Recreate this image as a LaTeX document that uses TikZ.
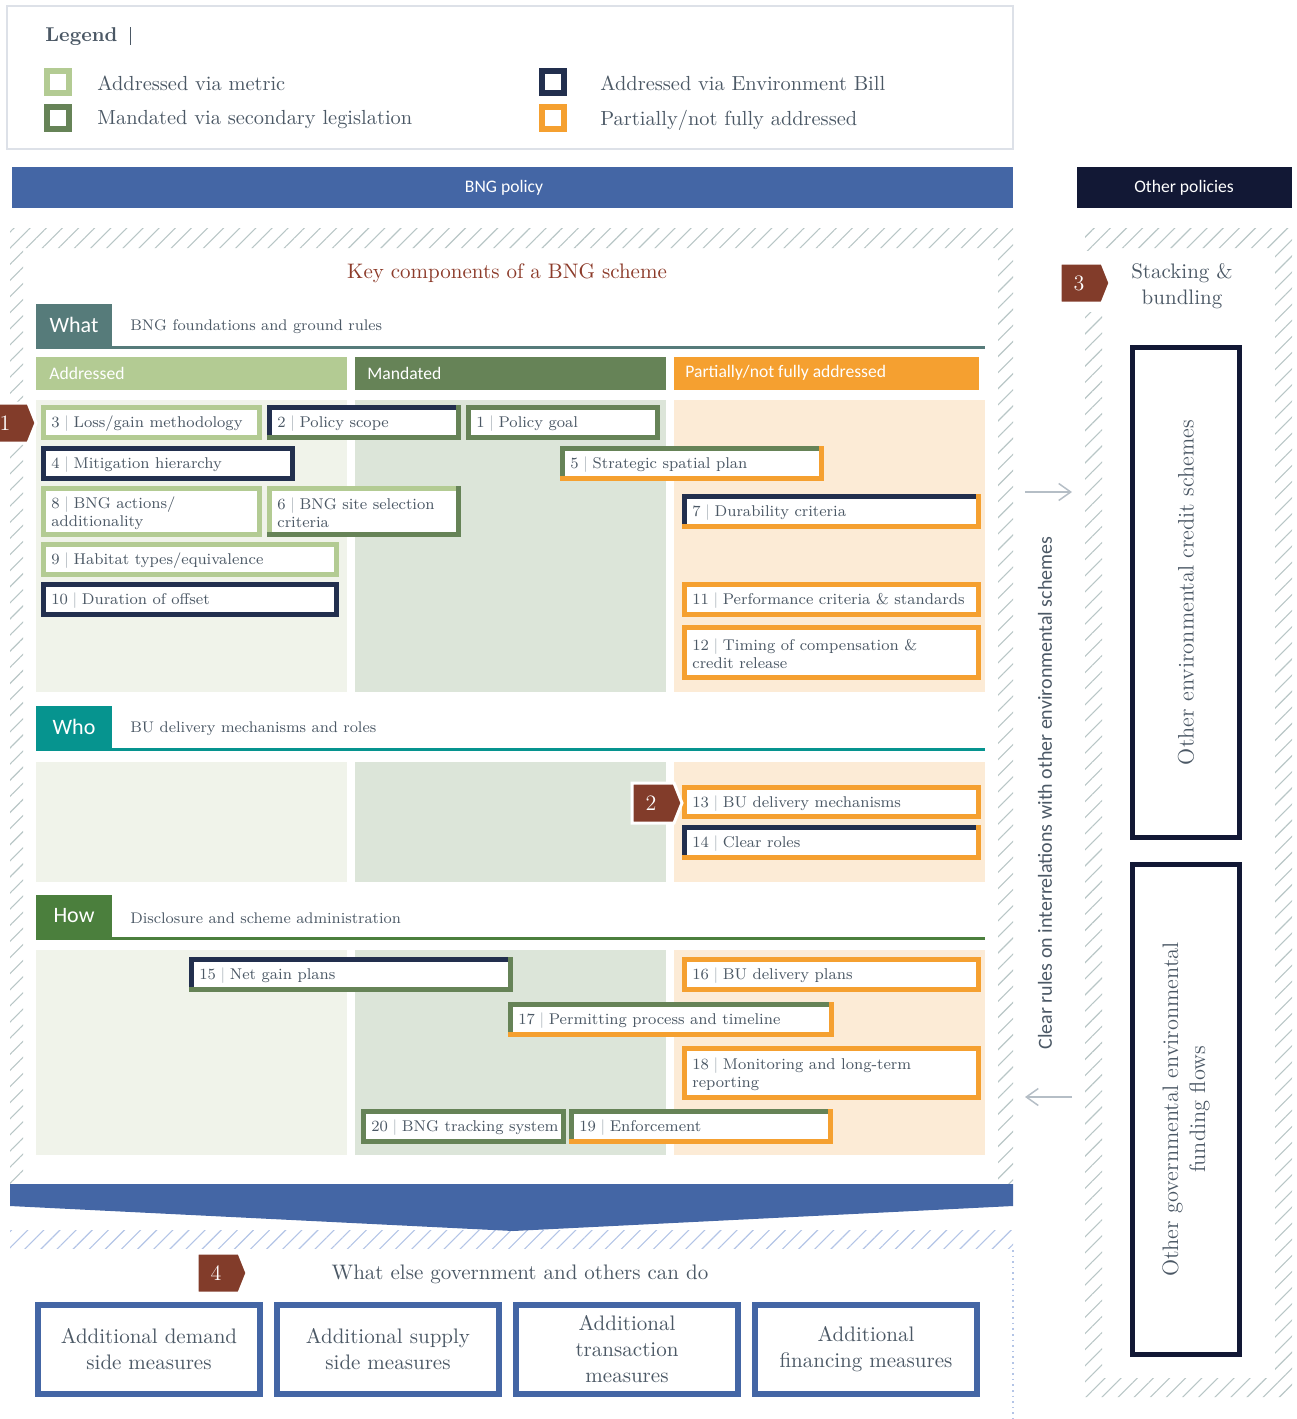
\documentclass[tikz,border=0pt]{standalone}
\usepackage{fontspec}
\setsansfont{Carlito}
\usepackage{tikz}
\usetikzlibrary{patterns.meta,arrows.meta}

\definecolor{txtc}{HTML}{4B5865}
\definecolor{titlec}{HTML}{8C3B2A}
\definecolor{markc}{HTML}{823C2A}
\definecolor{bngblue}{HTML}{4466A5}
\definecolor{navyd}{HTML}{121835}
\definecolor{navy}{HTML}{222F4E}
\definecolor{lgr}{HTML}{B3CB93}
\definecolor{mgr}{HTML}{668357}
\definecolor{orng}{HTML}{F5A030}
\definecolor{addbg}{HTML}{F0F3EA}
\definecolor{manbg}{HTML}{DCE5D9}
\definecolor{parbg}{HTML}{FCEBD6}
\definecolor{whatc}{HTML}{567B7A}
\definecolor{whoc}{HTML}{06948F}
\definecolor{howc}{HTML}{4B7F3D}
\definecolor{hatchc}{HTML}{B8C6C6}
\definecolor{hatchb}{HTML}{B3C4E6}
\definecolor{legc}{HTML}{DDE1E8}
\definecolor{arrc}{HTML}{B5BEC6}
\definecolor{sepc}{HTML}{A9B1B9}

\tikzset{
  hatch/.style={pattern={Lines[angle=45,distance=5.7pt,line width=0.55pt]},pattern color=#1},
  itemtext/.style={anchor=west,align=left,inner sep=0pt,text=txtc,font=\fontsize{7.8}{9}\selectfont},
  tabtext/.style={text=white,font=\sffamily\fontsize{11}{13}\selectfont},
  subtext/.style={anchor=west,inner sep=0pt,text=txtc,font=\fontsize{7.7}{9}\selectfont},
  colhead/.style={anchor=west,inner sep=0pt,text=white,font=\sffamily\fontsize{8.8}{10}\selectfont},
  legtext/.style={anchor=west,inner sep=0pt,text=txtc,font=\fontsize{10.2}{12}\selectfont},
  marktext/.style={text=white,font=\fontsize{11}{13}\selectfont},
  measure/.style={draw=bngblue,line width=3pt,fill=white,minimum width=111pt,minimum height=44.5pt,
    align=center,text=txtc,font=\fontsize{10.5}{13}\selectfont},
  otherbox/.style={draw=navyd,line width=2.5pt,fill=white,minimum width=245pt,minimum height=53.5pt,
    rotate=90,align=center,text=txtc,font=\fontsize{11.2}{13.5}\selectfont},
  thinarrow/.style={draw=arrc,line width=0.75pt,-{Straight Barb[length=6pt,width=8.5pt]}}
}

% number and bar in front of an item
\newcommand{\nb}[1]{#1\hspace{0.3em}{\color{sepc}|}\hspace{0.3em}}
% item box: name, x1, y1, x2, y2, top/left colour, bottom/right colour, text
\newcommand{\bngitem}[8]{%
  \fill[#7] (#2,#3) rectangle (#4,#5);
  \fill[#6] (#2,#3) rectangle ({#4-5},{#5-5});
  \fill[white] ({#2+5},{#3+5}) rectangle ({#4-5},{#5-5});
  \node[itemtext] (#1) at ({#2+10},{(#3+#5)/2+1.5}) {#8};
}
% numbered marker: name, x, y, label
\newcommand{\bngmark}[4]{%
  \fill[markc,draw=white,line width=1.5pt] (#2,#3) -- ++(42,0) -- ++(8,20) -- ++(-8,20) -- ++(-42,0) -- cycle;
  \node[marktext] (#1) at ({#2+19},{#3+20}) {#4};
}

\begin{document}
\begin{tikzpicture}[x=0.5pt,y=-0.5pt]
\useasboundingbox (0,0) rectangle (1296,1419);

% legend
\draw[legc,line width=1pt] (7,6) rectangle (1013,149);
\node[legtext,font=\bfseries\fontsize{10}{12}\selectfont] (leg) at (45,37) {Legend};
\draw[txtc,line width=0.4pt] (130,27) -- (130,45);
\draw[lgr,line width=3pt] (47,71) rectangle (69,93);
\draw[mgr,line width=3pt] (47,107) rectangle (69,129);
\draw[navy,line width=3pt] (542,71) rectangle (564,93);
\draw[orng,line width=3pt] (542,107) rectangle (564,129);
\node[legtext] (legA) at (97,83) {Addressed via metric};
\node[legtext] (legM) at (97,120) {Mandated via secondary legislation};
\node[legtext] (legE) at (600,83) {Addressed via Environment Bill};
\node[legtext] (legP) at (600,120) {Partially/not fully addressed};

% policy bars
\fill[bngblue] (12,167) rectangle (1013,208);
\node[colhead,anchor=center] (bng) at (504,188) {BNG policy};
\fill[navyd] (1077,167) rectangle (1292,208);
\node[colhead,anchor=center] (other) at (1184,188) {Other policies};

% hatched frames
\fill[hatch=hatchc,even odd rule] (10,228) rectangle (1013,1184) (23,248) rectangle (998,1184);
\fill[hatch=hatchc,even odd rule] (1085,228) rectangle (1292,1397) (1102,248) rectangle (1275,1378);
\fill[hatch=hatchb] (10,1230) rectangle (1013,1248);
\fill[white] (1080,251) rectangle (1104,312);
\draw[hatchb,dotted,line width=0.8pt] (1013,1250) -- (1013,1419);

% arrow to the measures
\fill[bngblue] (10,1184) -- (1013,1184) -- (1013,1206) -- (513,1231) -- (10,1206) -- cycle;

% key components
\node[text=titlec,font=\fontsize{10.5}{13}\selectfont] (key) at (507,273) {Key components of a BNG scheme};

\foreach \y/\c/\t/\s in {304/whatc/What/BNG foundations and ground rules,
                         706/whoc/Who/BU delivery mechanisms and roles,
                         895/howc/How/Disclosure and scheme administration} {
  \fill[\c] (36,\y) rectangle (112,\y+43);
  \draw[\c,line width=1.5pt] (36,\y+43) -- (985,\y+43);
  \node[tabtext] (tab\t) at (74,\y+21) {\t};
  \node[subtext] (sub\t) at (130,\y+23) {\s};
}

% column headers
\fill[lgr] (36,357) rectangle (347,390);
\fill[mgr] (355,357) rectangle (666,390);
\fill[orng] (674,357) rectangle (979,390);
\node[colhead] (hAdd) at (49,373) {Addressed};
\node[colhead] (hMan) at (367,373) {Mandated};
\node[colhead] (hPar) at (685,373) {Partially/not fully addressed};

% column backgrounds
\foreach \ya/\yb in {400/692, 762/882, 950/1155} {
  \fill[addbg] (36,\ya) rectangle (347,\yb);
  \fill[manbg] (355,\ya) rectangle (666,\yb);
  \fill[parbg] (674,\ya) rectangle (985,\yb);
}

% what
\bngitem{i3}{41}{405}{262}{440}{lgr}{lgr}{\nb{3}Loss/gain methodology}
\bngitem{i2}{267}{405}{461}{440}{navy}{mgr}{\nb{2}Policy scope}
\bngitem{i1}{466}{405}{660}{440}{mgr}{mgr}{\nb{1}Policy goal}
\bngitem{i4}{41}{446}{295}{481}{navy}{navy}{\nb{4}Mitigation hierarchy}
\bngitem{i5}{560}{446}{824}{481}{mgr}{orng}{\nb{5}Strategic spatial plan}
\bngitem{i8}{41}{486}{262}{537}{lgr}{lgr}{\nb{8}BNG actions/\\additionality}
\bngitem{i6}{267}{486}{461}{537}{lgr}{mgr}{\nb{6}BNG site selection\\criteria}
\bngitem{i7}{682}{494}{981}{529}{navy}{orng}{\nb{7}Durability criteria}
\bngitem{i9}{41}{542}{339}{577}{lgr}{lgr}{\nb{9}Habitat types/equivalence}
\bngitem{i10}{41}{582}{339}{617}{navy}{navy}{\nb{10}Duration of offset}
\bngitem{i11}{682}{582}{981}{617}{orng}{orng}{\nb{11}Performance criteria \& standards}
\bngitem{i12}{682}{625}{981}{680}{orng}{orng}{\nb{12}Timing of compensation \&\\credit release}

% who
\bngitem{i13}{682}{785}{981}{819}{orng}{orng}{\nb{13}BU delivery mechanisms}
\bngitem{i14}{682}{825}{981}{860}{navy}{orng}{\nb{14}Clear roles}

% how
\bngitem{i15}{189}{957}{513}{992}{navy}{mgr}{\nb{15}Net gain plans}
\bngitem{i16}{682}{957}{981}{992}{orng}{orng}{\nb{16}BU delivery plans}
\bngitem{i17}{508}{1002}{834}{1037}{mgr}{orng}{\nb{17}Permitting process and timeline}
\bngitem{i18}{682}{1046}{981}{1100}{orng}{orng}{\nb{18}Monitoring and long-term\\reporting}
\bngitem{i20}{361}{1109}{566}{1144}{mgr}{mgr}{\nb{20}BNG tracking system}
\bngitem{i19}{569}{1109}{833}{1144}{mgr}{orng}{\nb{19}Enforcement}

% markers
\bngmark{m1}{-14}{403}{1}
\bngmark{m2}{632}{783}{2}
\bngmark{m3}{1060}{263}{3}
\bngmark{m4}{197}{1253}{4}

% other policies
\node[text=txtc,align=center,font=\fontsize{10.5}{13}\selectfont] (stack) at (1182,286) {Stacking \&\\bundling};
\node[otherbox] (credit) at (1186,592.5) {Other environmental credit schemes};
\node[otherbox] (funding) at (1186,1109.5) {Other governmental environmental\\funding flows};
\coordinate (ra) at (1025,492);
\coordinate (rb) at (1072,492);
\coordinate (la) at (1072,1097);
\coordinate (lb) at (1025,1097);
\draw[thinarrow] (ra) -- (rb);
\draw[thinarrow] (la) -- (lb);
\node[rotate=90,text=txtc,font=\sffamily\fontsize{10}{12}\selectfont] (rules) at (1045,793)
  {Clear rules on interrelations with other environmental schemes};

% what else
\node[text=txtc,font=\fontsize{10.5}{13}\selectfont] (else) at (520,1274) {What else government and others can do};
\foreach \n/\x/\t in {dem/149/{Additional demand\\side measures},
                      sup/388/{Additional supply\\side measures},
                      tra/627/{Additional\\transaction\\measures},
                      fin/866/{Additional\\financing measures}}
  \node[measure] (\n) at (\x,1349.5) {\t};
\end{tikzpicture}
\end{document}
